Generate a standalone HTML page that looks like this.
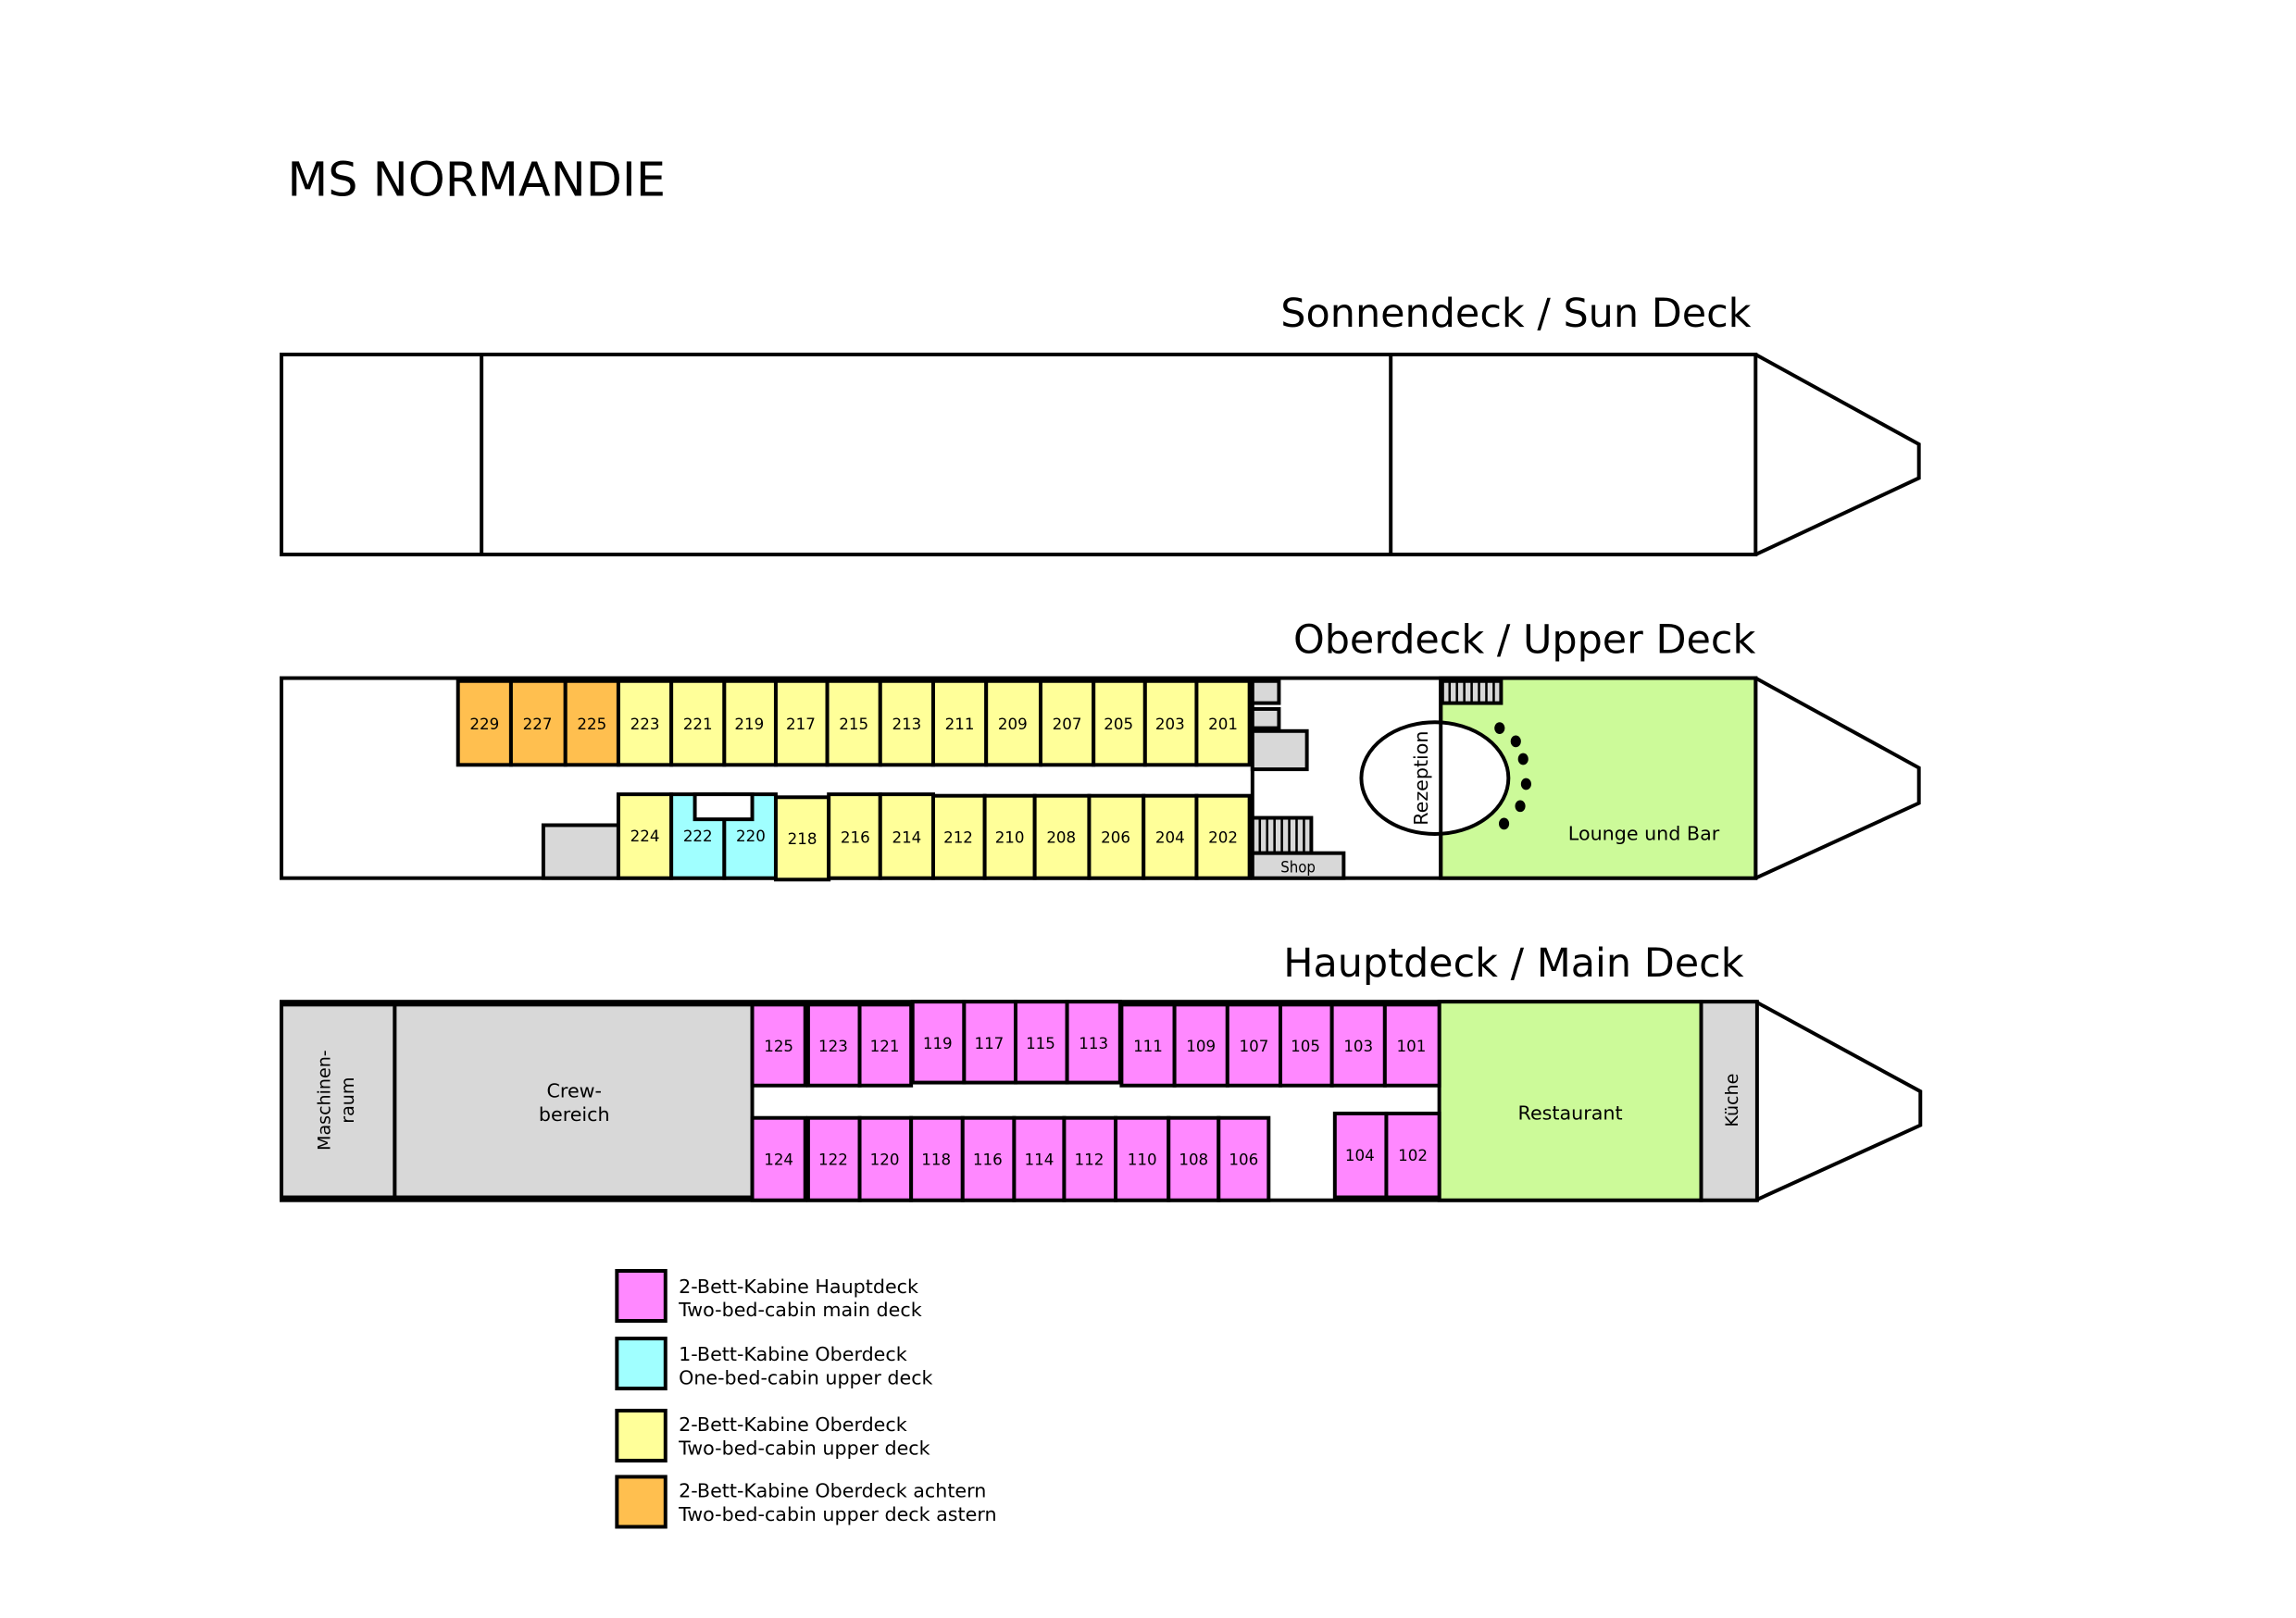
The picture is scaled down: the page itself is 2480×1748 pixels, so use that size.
<!DOCTYPE html>
<html><head><meta charset="utf-8"><style>
html,body{margin:0;padding:0;background:#fff}
svg{display:block}
text{font-family:"DejaVu Sans","Liberation Sans",sans-serif;fill:#000}
.n{font-family:"DejaVu Sans Condensed","DejaVu Sans","Liberation Sans Narrow",sans-serif;font-size:10.5px;text-anchor:middle}
.s{stroke:#000;stroke-width:2.5}
.p{fill:#ff88ff}.c{fill:#a0ffff}.y{fill:#ffff99}.o{fill:#ffbf4f}.g{fill:#d8d8d8}.gr{fill:#ccfa99}.w{fill:#fff}
</style></head><body>
<svg width="2480" height="1748" viewBox="0 0 1560 1100" xmlns="http://www.w3.org/2000/svg">
<rect width="1560" height="1100" fill="#fff"/>
<text x="195" y="133" font-size="32">MS NORMANDIE</text>

<!-- Sun deck -->
<text x="1190" y="222" font-size="27" text-anchor="end">Sonnendeck / Sun Deck</text>
<g class="s" fill="#fff">
<rect x="191" y="241" width="1002" height="136"/>
<line x1="327" y1="241" x2="327" y2="377"/>
<line x1="945" y1="241" x2="945" y2="377"/>
<polyline points="1193,241 1304,302 1304,325 1193,377" fill="none"/>
</g>

<!-- Upper deck -->
<text x="1193" y="444" font-size="27" text-anchor="end">Oberdeck / Upper Deck</text>
<g class="s">
<rect x="191" y="461" width="1002" height="136" fill="#fff"/>
<polyline points="1193,461 1304,522 1304,546 1193,597" fill="none"/>
<rect x="979" y="461" width="214" height="136" class="gr"/>
<line x1="851" y1="461" x2="851" y2="597"/>
<rect x="851" y="463" width="18" height="15" class="g"/>
<rect x="851" y="482" width="18" height="13" class="g"/>
<rect x="851" y="497" width="37" height="26" class="g"/>
<rect x="369" y="561" width="51" height="36" class="g"/>
<rect x="851" y="556" width="40" height="24" class="g"/>
<rect x="851" y="580" width="62" height="17" class="g"/>
<rect x="980" y="463" width="40" height="15" class="g"/>
<!-- top cabins -->
<rect x="311" y="463" width="36" height="57" class="o"/>
<rect x="347" y="463" width="37" height="57" class="o"/>
<rect x="384" y="463" width="36" height="57" class="o"/>
<rect x="420" y="463" width="36" height="57" class="y"/>
<rect x="456" y="463" width="36" height="57" class="y"/>
<rect x="492" y="463" width="35" height="57" class="y"/>
<rect x="527" y="463" width="35" height="57" class="y"/>
<rect x="562" y="463" width="36" height="57" class="y"/>
<rect x="598" y="463" width="36" height="57" class="y"/>
<rect x="634" y="463" width="36" height="57" class="y"/>
<rect x="670" y="463" width="37" height="57" class="y"/>
<rect x="707" y="463" width="36" height="57" class="y"/>
<rect x="743" y="463" width="35" height="57" class="y"/>
<rect x="778" y="463" width="35" height="57" class="y"/>
<rect x="813" y="463" width="36" height="57" class="y"/>
<!-- bottom cabins -->
<rect x="420" y="540" width="36" height="57" class="y"/>
<rect x="456" y="540" width="36" height="57" class="c"/>
<rect x="492" y="540" width="35" height="57" class="c"/>
<rect x="472" y="540" width="39" height="17" class="w"/>
<rect x="527" y="542" width="36" height="56" class="y"/>
<rect x="563" y="540" width="35" height="57" class="y"/>
<rect x="598" y="540" width="36" height="57" class="y"/>
<rect x="634" y="541" width="35" height="56" class="y"/>
<rect x="669" y="541" width="34" height="56" class="y"/>
<rect x="703" y="541" width="37" height="56" class="y"/>
<rect x="740" y="541" width="37" height="56" class="y"/>
<rect x="777" y="541" width="36" height="56" class="y"/>
<rect x="813" y="541" width="36" height="56" class="y"/>
<ellipse cx="975" cy="529" rx="50" ry="38" fill="#fff"/>
<line x1="979" y1="461" x2="979" y2="597"/>
</g>
<g stroke="#000" stroke-width="1.6">
<line x1="856" y1="557" x2="856" y2="579"/><line x1="861" y1="557" x2="861" y2="579"/><line x1="866" y1="557" x2="866" y2="579"/><line x1="871" y1="557" x2="871" y2="579"/><line x1="876" y1="557" x2="876" y2="579"/><line x1="881" y1="557" x2="881" y2="579"/><line x1="886" y1="557" x2="886" y2="579"/>
<line x1="985" y1="464" x2="985" y2="477"/><line x1="990" y1="464" x2="990" y2="477"/><line x1="995" y1="464" x2="995" y2="477"/><line x1="1000" y1="464" x2="1000" y2="477"/><line x1="1005" y1="464" x2="1005" y2="477"/><line x1="1010" y1="464" x2="1010" y2="477"/><line x1="1015" y1="464" x2="1015" y2="477"/>
</g>
<g fill="#000">
<ellipse cx="1019" cy="495" rx="3.5" ry="4"/><ellipse cx="1030" cy="504" rx="3.5" ry="4"/><ellipse cx="1035" cy="516" rx="3.5" ry="4"/><ellipse cx="1037" cy="533" rx="3.5" ry="4"/><ellipse cx="1033" cy="548" rx="3.5" ry="4"/><ellipse cx="1022" cy="560" rx="3.5" ry="4"/>
</g>
<text x="970" y="529" font-size="13" text-anchor="middle" transform="rotate(-90 970 529)">Rezeption</text>
<text x="1117" y="571" font-size="13" text-anchor="middle">Lounge und Bar</text>
<text class="n" x="882" y="593">Shop</text>
<g class="n">
<text x="329" y="496">229</text><text x="365" y="496">227</text><text x="402" y="496">225</text><text x="438" y="496">223</text><text x="474" y="496">221</text><text x="509" y="496">219</text><text x="544" y="496">217</text><text x="580" y="496">215</text><text x="616" y="496">213</text><text x="652" y="496">211</text><text x="688" y="496">209</text><text x="725" y="496">207</text><text x="760" y="496">205</text><text x="795" y="496">203</text><text x="831" y="496">201</text>
<text x="438" y="572">224</text><text x="474" y="572">222</text><text x="510" y="572">220</text><text x="545" y="574">218</text><text x="581" y="573">216</text><text x="616" y="573">214</text><text x="651" y="573">212</text><text x="686" y="573">210</text><text x="721" y="573">208</text><text x="758" y="573">206</text><text x="795" y="573">204</text><text x="831" y="573">202</text>
</g>

<!-- Main deck -->
<text x="1185" y="664" font-size="27" text-anchor="end">Hauptdeck / Main Deck</text>
<g class="s">
<rect x="191" y="681" width="1002" height="135" fill="#fff"/>
<polyline points="1193,681 1305,742 1305,765 1193,816" fill="none"/>
<rect x="191" y="683" width="77" height="131" class="g"/>
<rect x="268" y="683" width="243" height="131" class="g"/>
<rect x="978" y="681" width="178" height="135" class="gr"/>
<rect x="1156" y="681" width="38" height="135" class="g"/>
<rect x="511" y="683" width="36" height="55" class="p"/>
<rect x="549" y="683" width="35" height="55" class="p"/>
<rect x="584" y="683" width="35" height="55" class="p"/>
<rect x="620" y="681" width="35" height="55" class="p"/>
<rect x="655" y="681" width="35" height="55" class="p"/>
<rect x="690" y="681" width="35" height="55" class="p"/>
<rect x="725" y="681" width="36" height="55" class="p"/>
<rect x="762" y="683" width="36" height="55" class="p"/>
<rect x="798" y="683" width="36" height="55" class="p"/>
<rect x="834" y="683" width="36" height="55" class="p"/>
<rect x="870" y="683" width="35" height="55" class="p"/>
<rect x="905" y="683" width="36" height="55" class="p"/>
<rect x="941" y="683" width="37" height="55" class="p"/>
<rect x="511" y="760" width="36" height="56" class="p"/>
<rect x="549" y="760" width="35" height="56" class="p"/>
<rect x="584" y="760" width="35" height="56" class="p"/>
<rect x="619" y="760" width="35" height="56" class="p"/>
<rect x="654" y="760" width="35" height="56" class="p"/>
<rect x="689" y="760" width="34" height="56" class="p"/>
<rect x="723" y="760" width="35" height="56" class="p"/>
<rect x="758" y="760" width="36" height="56" class="p"/>
<rect x="794" y="760" width="34" height="56" class="p"/>
<rect x="828" y="760" width="34" height="56" class="p"/>
<rect x="907" y="757" width="35" height="57" class="p"/>
<rect x="942" y="757" width="36" height="57" class="p"/>
</g>
<text x="224" y="748" font-size="12" text-anchor="middle" transform="rotate(-90 224 748)">Maschinen-</text>
<text x="240" y="748" font-size="12" text-anchor="middle" transform="rotate(-90 240 748)">raum</text>
<text x="390" y="746" font-size="13" text-anchor="middle">Crew-</text>
<text x="390" y="762" font-size="13" text-anchor="middle">bereich</text>
<text x="1067" y="761" font-size="13" text-anchor="middle">Restaurant</text>
<text x="1181" y="748" font-size="12" text-anchor="middle" transform="rotate(-90 1181 748)">Küche</text>
<g class="n">
<text x="529" y="715">125</text><text x="566" y="715">123</text><text x="601" y="715">121</text><text x="637" y="713">119</text><text x="672" y="713">117</text><text x="707" y="713">115</text><text x="743" y="713">113</text><text x="780" y="715">111</text><text x="816" y="715">109</text><text x="852" y="715">107</text><text x="887" y="715">105</text><text x="923" y="715">103</text><text x="959" y="715">101</text>
<text x="529" y="792">124</text><text x="566" y="792">122</text><text x="601" y="792">120</text><text x="636" y="792">118</text><text x="671" y="792">116</text><text x="706" y="792">114</text><text x="740" y="792">112</text><text x="776" y="792">110</text><text x="811" y="792">108</text><text x="845" y="792">106</text><text x="924" y="789">104</text><text x="960" y="789">102</text>
</g>

<!-- Legend -->
<g class="s">
<rect x="419" y="864" width="33" height="34" class="p"/>
<rect x="419" y="910" width="33" height="34" class="c"/>
<rect x="419" y="959" width="33" height="34" class="y"/>
<rect x="419" y="1004" width="33" height="34" class="o"/>
</g>
<g font-size="13">
<text x="461" y="879">2-Bett-Kabine Hauptdeck</text><text x="461" y="895">Two-bed-cabin main deck</text>
<text x="461" y="925">1-Bett-Kabine Oberdeck</text><text x="461" y="941">One-bed-cabin upper deck</text>
<text x="461" y="973">2-Bett-Kabine Oberdeck</text><text x="461" y="989">Two-bed-cabin upper deck</text>
<text x="461" y="1018">2-Bett-Kabine Oberdeck achtern</text><text x="461" y="1034">Two-bed-cabin upper deck astern</text>
</g>
</svg>
</body></html>
